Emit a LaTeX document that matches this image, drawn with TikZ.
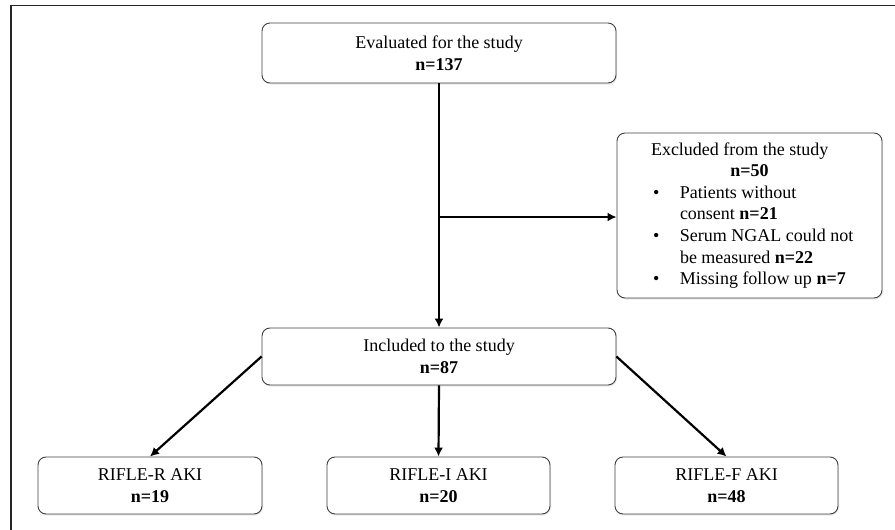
\documentclass[tikz,border=0pt]{standalone}
\usepackage{fontspec}
\setmainfont{Liberation Serif}
\usetikzlibrary{arrows.meta,shadows}
\newcommand{\exline}[2][0pt]{\makebox[212pt][l]{\hspace*{#1}#2}}
\newcommand{\exbul}[1]{\makebox[212pt][l]{\hspace*{9.5pt}\makebox[27pt][l]{\textbullet}#1}}
\begin{document}
\begin{tikzpicture}[x=1pt,y=-1pt,
  box/.style={draw=black!75, line width=0.9pt, rounded corners=8pt, fill=white,
    align=center, font=\fontsize{18}{21.6}\selectfont, inner sep=0pt,
    drop shadow={opacity=0.18, shadow xshift=1pt, shadow yshift=-1.5pt}},
  arr/.style={line width=2.2pt, -{Latex[length=9pt,width=9pt]}},
  ]
\useasboundingbox (0,0) rectangle (895,530);
\draw[line width=1.5pt, black!85] (11,530) -- (11,5.5) -- (895,5.5);

\node[box, minimum width=354pt, minimum height=60pt] (eval) at (439,53)
  {Evaluated for the study\\\textbf{n=137}};
\node[box, minimum width=354pt, minimum height=57pt] (inc) at (439,356.5)
  {Included to the study\\\textbf{n=87}};
\node[box, minimum width=265pt, minimum height=165pt] (excl) at (749.5,215.5)
  {\exline[7.5pt]{Excluded from the study}\\
   \makebox[212pt]{\textbf{n=50}}\\
   \exbul{Patients without}\\
   \exline[36.5pt]{consent \textbf{n=21}}\\
   \exbul{Serum NGAL could not}\\
   \exline[36.5pt]{be measured \textbf{n=22}}\\
   \exbul{Missing follow up \textbf{n=7}}};
\node[box, minimum width=224pt, minimum height=57pt] (rr) at (150,485.5)
  {RIFLE-R AKI\\\textbf{n=19}};
\node[box, minimum width=223pt, minimum height=57pt] (ri) at (438.5,485.5)
  {RIFLE-I AKI\\\textbf{n=20}};
\node[box, minimum width=223pt, minimum height=57pt] (rf) at (726.5,485.5)
  {RIFLE-F AKI\\\textbf{n=48}};

\coordinate (br) at (439,217);
\draw[arr] (eval.south) -- (inc.north);
\draw[arr] (br) -- (br -| excl.west);
\draw[arr] (inc.west) -- (rr.north);
\draw[arr] (inc.south) -- (ri.north);
\draw[arr] (inc.east) -- (rf.north);
\end{tikzpicture}
\end{document}
